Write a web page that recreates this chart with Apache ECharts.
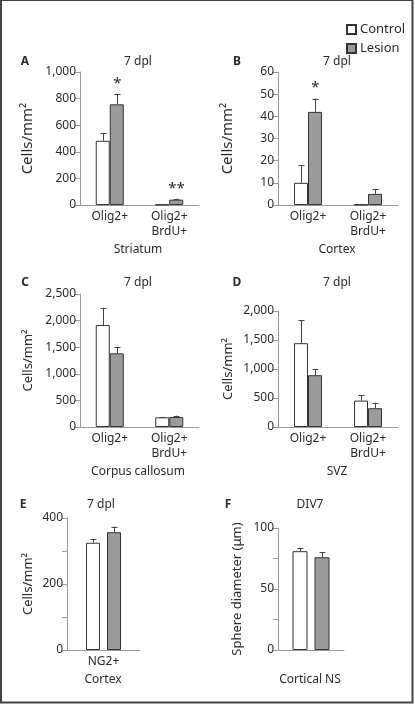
<!DOCTYPE html>
<html>
<head>
<meta charset="utf-8">
<script src="https://cdn.jsdelivr.net/npm/echarts@6/dist/echarts.min.js"></script>
<style>
html,body{margin:0;padding:0;background:#fff;}
#chart{width:415px;height:704px;}
</style>
</head>
<body>
<div id="chart"></div>
<script>
// ---- Data ----
const seriesNames = ['Control', 'Lesion'];
const oligCats = ['Olig2+', 'Olig2+\nBrdU+'];
const ng2Cats = ['NG2+'];
const nsCats = [''];

// A: Striatum
const aControl = [483, 3];
const aControlErr = [58, 0];
const aLesion = [757, 40];
const aLesionErr = [75, 7];
const aLesionSig = ['*', '**'];
// B: Cortex
const bControl = [10, 0.2];
const bControlErr = [8, 0];
const bLesion = [42, 5];
const bLesionErr = [6, 2];
const bLesionSig = ['*', ''];
// C: Corpus callosum
const cControl = [1917, 182];
const cControlErr = [325, 10];
const cLesion = [1385, 188];
const cLesionErr = [113, 25];
// D: SVZ
const dControl = [1445, 455];
const dControlErr = [400, 92];
const dLesion = [893, 324];
const dLesionErr = [103, 96];
// E: Cortex NG2+
const eControl = [325];
const eControlErr = [10];
const eLesion = [357];
const eLesionErr = [17];
// F: Cortical NS
const fControl = [81];
const fControlErr = [2.5];
const fLesion = [76];
const fLesionErr = [4.3];

// Axis ranges / ticks
const aTicks = {min: 0, max: 1000, interval: 200, labelEvery: 200};
const bTicks = {min: 0, max: 60, interval: 10, labelEvery: 10};
const cTicks = {min: 0, max: 2500, interval: 500, labelEvery: 500};
const dTicks = {min: 0, max: 2000, interval: 500, labelEvery: 500};
const eTicks = {min: 0, max: 400, interval: 100, labelEvery: 200};
const fTicks = {min: 0, max: 100, interval: 25, labelEvery: 50};

const FONT = 'Noto Sans';
const TXT = '#2b2b2b';
const AXIS = '#9a9a9a';
const BORDER = '#333';
const LESION_FILL = '#9b9b9b';

const panels = [
  {cats: oligCats, ctrl: aControl, ctrlErr: aControlErr, les: aLesion, lesErr: aLesionErr, lesSig: aLesionSig, ticks: aTicks,
   grid: {left: 80, top: 72, width: 119, height: 133}, yName: 'Cells/mm²', nameGap: 45, nameSize: 15, barWidth: 14, gap: 0},
  {cats: oligCats, ctrl: bControl, ctrlErr: bControlErr, les: bLesion, lesErr: bLesionErr, lesSig: bLesionSig, ticks: bTicks,
   grid: {left: 278, top: 72, width: 120, height: 133}, yName: 'Cells/mm²', nameGap: 43, nameSize: 15, barWidth: 14, gap: 0},
  {cats: oligCats, ctrl: cControl, ctrlErr: cControlErr, les: cLesion, lesErr: cLesionErr, lesSig: null, ticks: cTicks,
   grid: {left: 80, top: 294, width: 119, height: 133}, yName: 'Cells/mm²', nameGap: 45, nameSize: 13, barWidth: 14, gap: 0},
  {cats: oligCats, ctrl: dControl, ctrlErr: dControlErr, les: dLesion, lesErr: dLesionErr, lesSig: null, ticks: dTicks,
   grid: {left: 278, top: 311, width: 120, height: 116}, yName: 'Cells/mm²', nameGap: 43, nameSize: 13, barWidth: 14, gap: 0},
  {cats: ng2Cats, ctrl: eControl, ctrlErr: eControlErr, les: eLesion, lesErr: eLesionErr, lesSig: null, ticks: eTicks,
   grid: {left: 67, top: 518, width: 73, height: 132}, yName: 'Cells/mm²', nameGap: 32, nameSize: 13, barWidth: 14, gap: 7},
  {cats: nsCats, ctrl: fControl, ctrlErr: fControlErr, les: fLesion, lesErr: fLesionErr, lesSig: null, ticks: fTicks,
   grid: {left: 278, top: 528, width: 66, height: 122}, yName: 'Sphere diameter (μm)', nameGap: 34, nameSize: 13, barWidth: 15, gap: 7}
];

const grids = [], xAxes = [], yAxes = [], series = [];
panels.forEach((p, i) => {
  grids.push(Object.assign({containLabel: false}, p.grid));
  xAxes.push({
    type: 'category', gridIndex: i, data: p.cats,
    axisLine: {lineStyle: {color: AXIS, width: 1}},
    axisTick: {show: false},
    axisLabel: {color: TXT, fontFamily: FONT, fontSize: 12, lineHeight: 15, margin: 4}
  });
  const t = p.ticks;
  yAxes.push({
    type: 'value', gridIndex: i, min: t.min, max: t.max, interval: t.interval,
    name: p.yName, nameLocation: 'middle', nameGap: p.nameGap, nameRotate: 90,
    nameTextStyle: {color: TXT, fontFamily: FONT, fontSize: p.nameSize},
    axisLine: {show: true, lineStyle: {color: AXIS, width: 1}},
    axisTick: {show: true, length: 5, lineStyle: {color: AXIS}},
    splitLine: {show: false},
    axisLabel: {
      color: TXT, fontFamily: FONT, fontSize: 12, margin: 4,
      formatter: v => (v % t.labelEvery === 0 ? v.toLocaleString('en-US') : '')
    }
  });
  const gapPct = (p.gap / p.barWidth * 100) + '%';
  series.push({
    name: 'Control', type: 'bar', xAxisIndex: i, yAxisIndex: i, data: p.ctrl,
    barWidth: p.barWidth, barGap: gapPct,
    itemStyle: {color: '#fff', borderColor: BORDER, borderWidth: 1}
  });
  series.push({
    name: 'Lesion', type: 'bar', xAxisIndex: i, yAxisIndex: i, data: p.les,
    barWidth: p.barWidth, barGap: gapPct,
    itemStyle: {color: LESION_FILL, borderColor: BORDER, borderWidth: 1}
  });
  const off = (p.barWidth + p.gap) / 2;
  const errData = [];
  const sigs = [];
  p.ctrl.forEach((v, k) => { errData.push([k, v, p.ctrlErr[k], -1]); sigs.push(''); });
  p.les.forEach((v, k) => { errData.push([k, v, p.lesErr[k], 1]); sigs.push(p.lesSig ? p.lesSig[k] : ''); });
  series.push({
    type: 'custom', xAxisIndex: i, yAxisIndex: i, data: errData, z: 5, silent: true,
    encode: {x: 0, y: [1, 2]},
    renderItem: function (params, api) {
      const idx = api.value(0), mean = api.value(1), err = api.value(2), side = api.value(3);
      const base = api.coord([idx, mean]);
      const top = api.coord([idx, mean + err]);
      const x = Math.round(base[0] + side * off) + 0.5;
      const children = [];
      if (err > 0) {
        children.push({type: 'line', shape: {x1: x, y1: base[1], x2: x, y2: top[1]}, style: {stroke: '#444', lineWidth: 1}});
        children.push({type: 'line', shape: {x1: x - 3, y1: Math.round(top[1]) + 0.5, x2: x + 3, y2: Math.round(top[1]) + 0.5}, style: {stroke: '#444', lineWidth: 1}});
      }
      const s = sigs[params.dataIndex];
      if (s) {
        children.push({type: 'text', style: {text: s, x: x, y: top[1] - 3, align: 'center', verticalAlign: 'bottom', fill: TXT, font: '15px ' + FONT}});
      }
      return {type: 'group', children: children};
    }
  });
});

function txt(text, x, y, opts) {
  return {type: 'text', x: x, y: y, style: Object.assign({text: text, fill: TXT, font: '12px ' + FONT, align: 'center', verticalAlign: 'middle'}, opts || {})};
}
const graphics = [
  {type: 'rect', shape: {x: 1, y: 0, width: 411.5, height: 702.5}, style: {fill: null, stroke: '#444', lineWidth: 2}, silent: true},
  txt('A', 25, 62, {font: 'bold 12px ' + FONT}),
  txt('7 dpl', 138, 62),
  txt('Striatum', 138, 250),
  txt('B', 237, 62, {font: 'bold 12px ' + FONT}),
  txt('7 dpl', 337, 62),
  txt('Cortex', 337, 250),
  txt('C', 25, 283, {font: 'bold 12px ' + FONT}),
  txt('7 dpl', 138, 283),
  txt('Corpus callosum', 138, 472),
  txt('D', 237, 283, {font: 'bold 12px ' + FONT}),
  txt('7 dpl', 337, 283),
  txt('SVZ', 337, 472),
  txt('E', 23, 505, {font: 'bold 12px ' + FONT}),
  txt('7 dpl', 101, 505),
  txt('Cortex', 103, 680),
  txt('F', 228, 505, {font: 'bold 12px ' + FONT}),
  txt('DIV7', 310, 505),
  txt('Cortical NS', 310, 680)
];

const chart = echarts.init(document.getElementById('chart'), null, {renderer: 'canvas'});
chart.setOption({
  animation: false,
  backgroundColor: '#fff',
  legend: {
    data: seriesNames, orient: 'vertical', left: 341, top: 18,
    itemWidth: 9, itemHeight: 9, itemGap: 6, icon: 'rect',
    textStyle: {color: TXT, fontFamily: FONT, fontSize: 13, padding: [0, 0, 0, -1]},
    selectedMode: false
  },
  grid: grids,
  xAxis: xAxes,
  yAxis: yAxes,
  series: series,
  graphic: graphics
});
</script>
</body>
</html>
